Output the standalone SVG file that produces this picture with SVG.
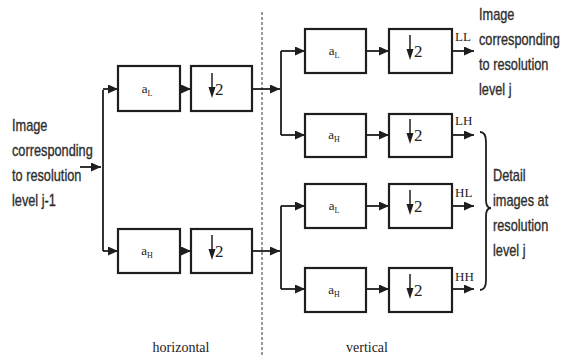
<svg xmlns="http://www.w3.org/2000/svg" width="562" height="361" viewBox="0 0 562 361">
<style>
.box{fill:#fff;stroke:#1e1e1e;stroke-width:2.2}
.ln{fill:none;stroke:#1e1e1e;stroke-width:1.8}
.sans{font-family:"Liberation Sans",Arial,sans-serif;font-size:17px;fill:#2e2e2e;stroke:#2e2e2e;stroke-width:0.35}
.serif{font-family:"Liberation Serif","Times New Roman",serif;fill:#222}
.lbl{font-size:13px}
.two{font-size:17px}
.sub{font-size:8px}
.dn{fill:#1e1e1e}
</style>
<defs>
<marker id="ah" markerUnits="userSpaceOnUse" markerWidth="10" markerHeight="9" refX="10" refY="4.5" orient="auto">
<path d="M0,0 L10,4.5 L0,9 z" fill="#1e1e1e"/>
</marker>
<g id="down">
<line x1="0" y1="-14" x2="0" y2="2" stroke="#1e1e1e" stroke-width="1.5"/>
<path d="M-3.5,0 L3.5,0 L0,11 z" class="dn"/>
</g>
</defs>

<rect width="562" height="361" fill="#fff"/>

<!-- divider -->
<line x1="262" y1="12" x2="262" y2="356" stroke="#666" stroke-width="1.3" stroke-dasharray="3,2"/>

<g id="connectors">
<!-- left stage -->
<line class="ln" x1="80" y1="167" x2="101" y2="167" marker-end="url(#ah)"/>
<polyline class="ln" points="103,90 103,251"/>
<line class="ln" x1="103" y1="89" x2="118" y2="89" marker-end="url(#ah)"/>
<line class="ln" x1="103" y1="251" x2="118" y2="251" marker-end="url(#ah)"/>
<line class="ln" x1="180" y1="89" x2="191" y2="89" marker-end="url(#ah)"/>
<line class="ln" x1="180" y1="251" x2="191" y2="251" marker-end="url(#ah)"/>
<line class="ln" x1="252" y1="89" x2="280" y2="89" marker-end="url(#ah)"/>
<line class="ln" x1="252" y1="251" x2="280" y2="251" marker-end="url(#ah)"/>
<!-- right stage -->
<polyline class="ln" points="281,51 281,135"/>
<polyline class="ln" points="281,206 281,289"/>
<line class="ln" x1="281" y1="51" x2="305" y2="51" marker-end="url(#ah)"/>
<line class="ln" x1="281" y1="135" x2="305" y2="135" marker-end="url(#ah)"/>
<line class="ln" x1="281" y1="206" x2="305" y2="206" marker-end="url(#ah)"/>
<line class="ln" x1="281" y1="289" x2="305" y2="289" marker-end="url(#ah)"/>
<line class="ln" x1="366" y1="51" x2="389" y2="51" marker-end="url(#ah)"/>
<line class="ln" x1="366" y1="135" x2="389" y2="135" marker-end="url(#ah)"/>
<line class="ln" x1="366" y1="206" x2="389" y2="206" marker-end="url(#ah)"/>
<line class="ln" x1="366" y1="289" x2="389" y2="289" marker-end="url(#ah)"/>
<line class="ln" x1="452" y1="51" x2="474" y2="51" marker-end="url(#ah)"/>
<line class="ln" x1="452" y1="135" x2="474" y2="135" marker-end="url(#ah)"/>
<line class="ln" x1="452" y1="206" x2="474" y2="206" marker-end="url(#ah)"/>
<line class="ln" x1="452" y1="289" x2="474" y2="289" marker-end="url(#ah)"/>
<!-- brace -->
<path class="ln" stroke-width="1.5" d="M480,132 Q486,132 486,142 L486,200 Q486,208 491,208 Q486,208 486,216 L486,280 Q486,290 480,290"/>
</g>

<!-- left stage nodes -->
<g id="h-aL">
<rect class="box" x="118" y="66" width="62" height="45"/>
<text class="serif lbl" x="147" y="93" text-anchor="middle">a<tspan class="sub" dy="3">L</tspan></text>
</g>
<g id="h-dL">
<rect class="box" x="191" y="66" width="61" height="45"/>
<use href="#down" x="212" y="87"/>
<text class="serif two" x="215" y="95">2</text>
</g>
<g id="h-aH">
<rect class="box" x="118" y="229" width="62" height="44"/>
<text class="serif lbl" x="147" y="255" text-anchor="middle">a<tspan class="sub" dy="3">H</tspan></text>
</g>
<g id="h-dH">
<rect class="box" x="191" y="229" width="61" height="44"/>
<use href="#down" x="212" y="249"/>
<text class="serif two" x="215" y="257">2</text>
</g>

<!-- right stage nodes -->
<g id="v1-aL">
<rect class="box" x="305" y="29" width="61" height="44"/>
<text class="serif lbl" x="334" y="55" text-anchor="middle">a<tspan class="sub" dy="3">L</tspan></text>
</g>
<g id="v1-d">
<rect class="box" x="389" y="29" width="63" height="44"/>
<use href="#down" x="410" y="49"/>
<text class="serif two" x="414" y="57">2</text>
</g>
<g id="v2-aH">
<rect class="box" x="305" y="114" width="61" height="43"/>
<text class="serif lbl" x="334" y="139" text-anchor="middle">a<tspan class="sub" dy="3">H</tspan></text>
</g>
<g id="v2-d">
<rect class="box" x="389" y="114" width="63" height="43"/>
<use href="#down" x="410" y="133"/>
<text class="serif two" x="414" y="141">2</text>
</g>
<g id="v3-aL">
<rect class="box" x="305" y="184" width="61" height="44"/>
<text class="serif lbl" x="334" y="210" text-anchor="middle">a<tspan class="sub" dy="3">L</tspan></text>
</g>
<g id="v3-d">
<rect class="box" x="389" y="184" width="63" height="44"/>
<use href="#down" x="410" y="204"/>
<text class="serif two" x="414" y="212">2</text>
</g>
<g id="v4-aH">
<rect class="box" x="305" y="268" width="61" height="44"/>
<text class="serif lbl" x="334" y="294" text-anchor="middle">a<tspan class="sub" dy="3">H</tspan></text>
</g>
<g id="v4-d">
<rect class="box" x="389" y="268" width="63" height="44"/>
<use href="#down" x="410" y="288"/>
<text class="serif two" x="414" y="296">2</text>
</g>

<!-- output labels -->
<g id="out-labels" class="serif lbl">
<text x="455" y="41">LL</text>
<text x="455" y="125">LH</text>
<text x="455" y="197">HL</text>
<text x="455" y="281">HH</text>
</g>

<!-- text annotations -->
<g id="input-text" transform="translate(12,0) scale(0.75,1)">
<text class="sans"><tspan x="0" y="131">Image</tspan><tspan x="0" y="156">corresponding</tspan><tspan x="0" y="181">to resolution</tspan><tspan x="0" y="206">level j-1</tspan></text>
</g>
<g id="ll-text" transform="translate(479,0) scale(0.75,1)">
<text class="sans"><tspan x="0" y="20">Image</tspan><tspan x="0" y="45">corresponding</tspan><tspan x="0" y="70">to resolution</tspan><tspan x="0" y="95">level j</tspan></text>
</g>
<g id="detail-text" transform="translate(493,0) scale(0.75,1)">
<text class="sans"><tspan x="0" y="181">Detail</tspan><tspan x="0" y="206">images at</tspan><tspan x="0" y="231">resolution</tspan><tspan x="0" y="256">level j</tspan></text>
</g>
<g id="stage-labels" class="serif" font-size="14">
<text x="181" y="352" text-anchor="middle">horizontal</text>
<text x="367" y="352" text-anchor="middle">vertical</text>
</g>
</svg>
